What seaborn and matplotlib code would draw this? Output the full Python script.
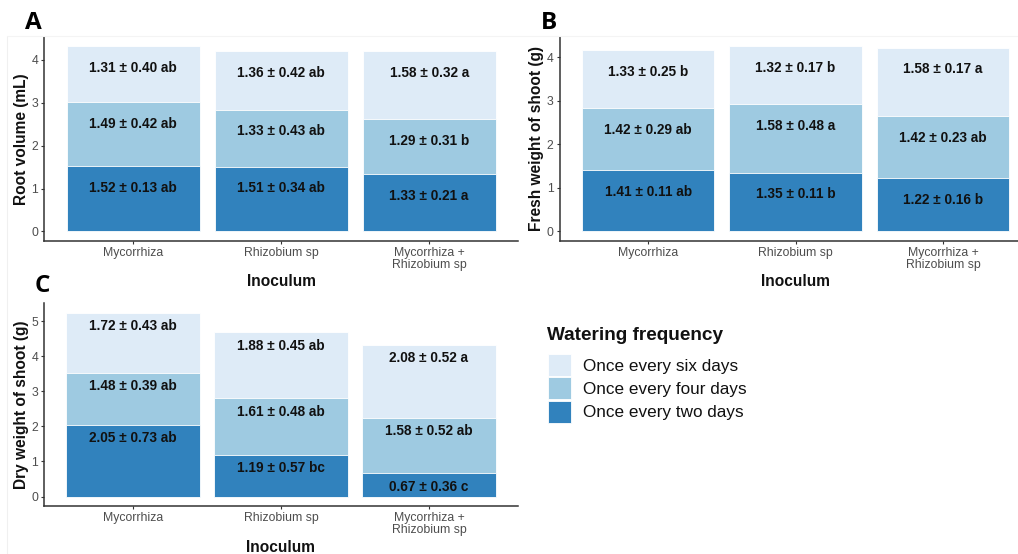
import numpy as np
import pandas as pd
import seaborn as sns
import matplotlib.pyplot as plt
from matplotlib.patches import Patch
from matplotlib.lines import Line2D

# ---- data -------------------------------------------------------------
inoculum = ["Mycorrhiza", "Rhizobium sp", "Mycorrhiza +\nRhizobium sp"]
watering = ["Once every two days", "Once every four days", "Once every six days"]
colors = {"Once every two days": "#3182BD",
          "Once every four days": "#9ECAE1",
          "Once every six days": "#DEEBF7"}

# Root volume (mL): mean, SD and letters per watering level (order of inoculum)
root_two_mean = [1.52, 1.51, 1.33]
root_two_sd = [0.13, 0.34, 0.21]
root_two_let = ["ab", "ab", "a"]
root_four_mean = [1.49, 1.33, 1.29]
root_four_sd = [0.42, 0.43, 0.31]
root_four_let = ["ab", "ab", "b"]
root_six_mean = [1.31, 1.36, 1.58]
root_six_sd = [0.40, 0.42, 0.32]
root_six_let = ["ab", "ab", "a"]

# Fresh weight of shoot (g)
fresh_two_mean = [1.41, 1.35, 1.22]
fresh_two_sd = [0.11, 0.11, 0.16]
fresh_two_let = ["ab", "b", "b"]
fresh_four_mean = [1.42, 1.58, 1.42]
fresh_four_sd = [0.29, 0.48, 0.23]
fresh_four_let = ["ab", "a", "ab"]
fresh_six_mean = [1.33, 1.32, 1.58]
fresh_six_sd = [0.25, 0.17, 0.17]
fresh_six_let = ["b", "b", "a"]

# Dry weight of shoot (g)
dry_two_mean = [2.05, 1.19, 0.67]
dry_two_sd = [0.73, 0.57, 0.36]
dry_two_let = ["ab", "bc", "c"]
dry_four_mean = [1.48, 1.61, 1.58]
dry_four_sd = [0.39, 0.48, 0.52]
dry_four_let = ["ab", "ab", "ab"]
dry_six_mean = [1.72, 1.88, 2.08]
dry_six_sd = [0.43, 0.45, 0.52]
dry_six_let = ["ab", "ab", "a"]


def build_frame(means, sds, lets):
    rows = []
    for w, m, s, l in zip(watering, means, sds, lets):
        for inoc, mv, sv, lv in zip(inoculum, m, s, l):
            rows.append(dict(inoculum=inoc, watering=w, mean=mv, sd=sv, letter=lv))
    df = pd.DataFrame(rows)
    df["watering"] = pd.Categorical(df["watering"], watering, ordered=True)
    df = df.sort_values(["inoculum", "watering"])
    df["top"] = df.groupby("inoculum", sort=False)["mean"].cumsum()
    return df


panels = [
    ("A", "Root volume (mL)",
     build_frame([root_two_mean, root_four_mean, root_six_mean],
                 [root_two_sd, root_four_sd, root_six_sd],
                 [root_two_let, root_four_let, root_six_let]), 0.5, [0, 1, 2, 3, 4]),
    ("B", "Fresh weight of shoot (g)",
     build_frame([fresh_two_mean, fresh_four_mean, fresh_six_mean],
                 [fresh_two_sd, fresh_four_sd, fresh_six_sd],
                 [fresh_two_let, fresh_four_let, fresh_six_let]), 0.5, [0, 1, 2, 3, 4]),
    ("C", "Dry weight of shoot (g)",
     build_frame([dry_two_mean, dry_four_mean, dry_six_mean],
                 [dry_two_sd, dry_four_sd, dry_six_sd],
                 [dry_two_let, dry_four_let, dry_six_let]), 0.39, [0, 1, 2, 3, 4, 5]),
]

# ---- figure -----------------------------------------------------------
sns.set_theme(style="ticks")
plt.rcParams["font.family"] = ["Liberation Sans", "DejaVu Sans"]

W, H = 1018, 554
fig = plt.figure(figsize=(W / 100, H / 100), dpi=100)

# axes boxes in pixels: left, top, width, height
boxes = {"A": (44.3, 37.0, 473.7, 203.7),
         "B": (559.6, 37.0, 472.0, 203.7),
         "C": (44.3, 303.3, 473.4, 202.4)}
letter_pos = {"A": (33, 23), "B": (549, 23), "C": (42, 286)}

for tag, ylabel, df, off, yticks in panels:
    l, t, w, h = boxes[tag]
    ax = fig.add_axes([l / W, 1 - (t + h) / H, w / W, h / H])
    for lvl in reversed(watering):
        sub = df[df["watering"] == lvl]
        sns.barplot(data=sub, x="inoculum", y="top", order=inoculum,
                    color=colors[lvl], saturation=1, width=0.9,
                    edgecolor="white", linewidth=0.6, errorbar=None, ax=ax)
    for _, r in df.iterrows():
        xi = inoculum.index(r["inoculum"])
        ax.text(xi, r["top"] - off, f"{r['mean']:.2f} ± {r['sd']:.2f} {r['letter']}",
                ha="center", va="center", fontsize=9.8, fontweight="bold",
                color="#111111")
    ymax = df["top"].max()
    ax.set_ylim(-0.05 * ymax, 1.05 * ymax)
    ax.set_xlim(-0.6, 2.6)
    ax.set_yticks(yticks)
    sns.despine(ax=ax)
    for sp in ("left", "bottom"):
        ax.spines[sp].set_color("#333333")
        ax.spines[sp].set_linewidth(1.1)
    ax.tick_params(axis="both", length=2.4, width=0.8, color="#333333",
                   labelcolor="#4D4D4D", labelsize=8.8, pad=2)
    ax.set_xlabel("Inoculum", fontsize=11.2, fontweight="bold", color="#111111")
    ax.set_ylabel(ylabel, fontsize=11.2, fontweight="bold", color="#111111")
    ax.xaxis.set_label_coords(0.5, -41.3 / h)
    ax.xaxis.label.set_va("center")
    ax.yaxis.set_label_coords(-22.8 / w, 0.5)
    ax.yaxis.label.set_va("center")
    for lab in ax.get_xticklabels():
        lab.set_linespacing(1.05)
    fx, fy = letter_pos[tag]
    fig.text(fx / W, 1 - fy / H, tag, ha="center", va="center", color="black",
             fontsize=17.5, fontweight="bold", family=["Open Sans", "DejaVu Sans"])

# legend: title set as its own text so the gap to the keys can be controlled
fig.text(547 / W, 1 - 336 / H, "Watering frequency", ha="left", va="center",
         fontsize=13.7, fontweight="bold", color="#111111")
handles = [Patch(facecolor=colors[lvl], edgecolor="white", linewidth=0.6)
           for lvl in reversed(watering)]
leg = fig.legend(handles, list(reversed(watering)),
                 loc="upper left", bbox_to_anchor=(548 / W, 1 - 354 / H),
                 frameon=False, fontsize=12.3,
                 handlelength=1.35, handleheight=1.61, labelspacing=0.07,
                 handletextpad=0.7, borderpad=0, borderaxespad=0)
for tx in leg.get_texts():
    tx.set_color("#111111")

# faint panel frame lines
fig.add_artist(Line2D([7 / W, 7 / W], [0, 1 - 36 / H], color="#F0F0F0", lw=0.8))
fig.add_artist(Line2D([7 / W, 1], [1 - 36 / H, 1 - 36 / H], color="#F4F4F4", lw=0.8))

fig.savefig("out.png", dpi=100)
